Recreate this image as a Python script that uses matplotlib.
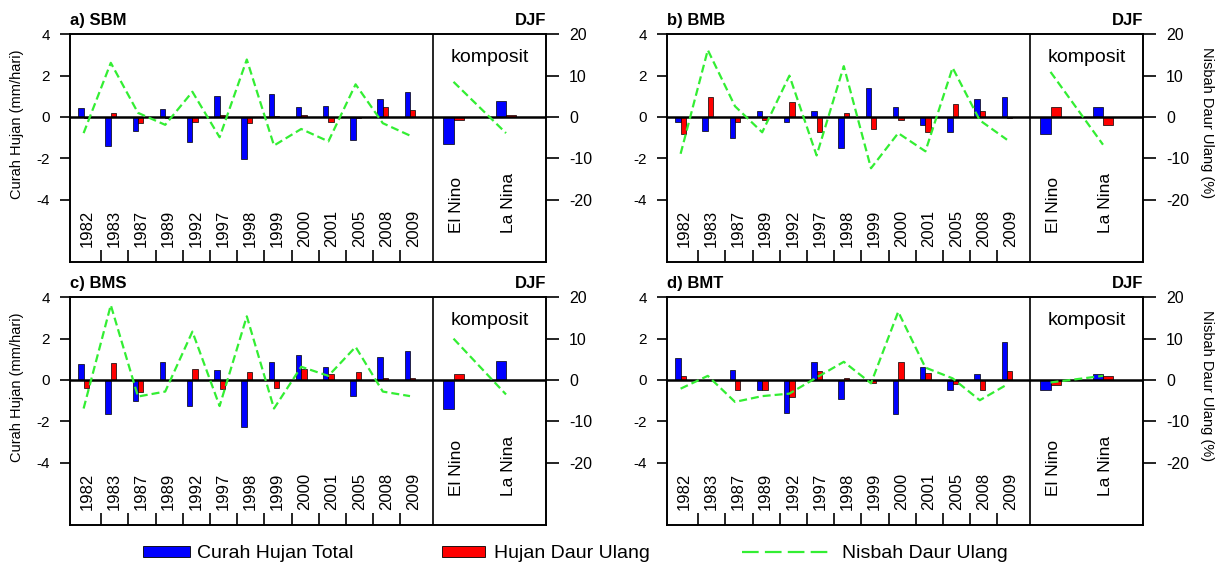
import matplotlib
matplotlib.use('Agg')
import matplotlib.pyplot as plt
import numpy as np
from matplotlib.patches import Patch
from matplotlib.lines import Line2D

plt.rcParams['font.family'] = ['Liberation Sans', 'DejaVu Sans']
plt.rcParams['axes.unicode_minus'] = False

# ---------------- data ----------------
years = ['1982', '1983', '1987', '1989', '1992', '1997', '1998',
         '1999', '2000', '2001', '2005', '2008', '2009']
composites = ['El Nino', 'La Nina']
panel_titles = ['a) SBM', 'b) BMB', 'c) BMS', 'd) BMT']
season = 'DJF'

# a) SBM
sbm_total = [0.45, -1.4, -0.7, 0.4, -1.2, 1.0, -2.05, 1.1, 0.47, 0.55, -1.1, 0.89, 1.21]
sbm_recyc = [-0.07, 0.2, -0.3, -0.03, -0.24, 0.1, -0.3, 0.03, 0.08, -0.24, -0.03, 0.47, 0.36]
sbm_ratio = [-3.9, 13.1, 1.0, -1.9, 6.1, -4.9, 13.9, -6.9, -2.9, -5.9, 7.9, -1.5, -4.5]
sbm_comp_total = [-1.3, 0.78]
sbm_comp_recyc = [-0.15, 0.1]
sbm_comp_ratio = [8.5, -3.9]

# b) BMB
bmb_total = [-0.24, -0.66, -1.0, 0.31, -0.24, 0.31, -1.52, 1.38, 0.47, -0.4, -0.75, 0.87, 0.96]
bmb_recyc = [-0.84, 0.97, -0.24, -0.16, 0.73, -0.73, 0.2, -0.58, -0.13, -0.73, 0.63, 0.28, -0.03]
bmb_ratio = [-8.9, 16.2, 2.6, -3.7, 10.0, -9.3, 12.3, -12.4, -3.9, -8.3, 11.9, -0.8, -5.5]
bmb_comp_total = [-0.83, 0.47]
bmb_comp_recyc = [0.47, -0.4]
bmb_comp_ratio = [10.9, -6.7]

# c) BMS
bms_total = [0.79, -1.66, -1.02, 0.89, -1.26, 0.47, -2.26, 0.89, 1.21, 0.63, -0.78, 1.13, 1.39]
bms_recyc = [-0.4, 0.81, -0.58, 0.02, 0.55, -0.42, 0.39, -0.39, 0.55, 0.27, 0.39, 0.1, 0.1]
bms_ratio = [-6.9, 18.1, -4.0, -2.8, 11.7, -6.3, 15.4, -6.9, 3.2, 1.0, 8.0, -2.8, -3.9]
bms_comp_total = [-1.42, 0.9]
bms_comp_recyc = [0.3, 0.0]
bms_comp_ratio = [10.0, -3.5]

# d) BMT
bmt_total = [1.05, 0.0, 0.47, -0.5, -1.58, 0.89, -0.94, -0.05, -1.66, 0.63, -0.5, 0.28, 1.84]
bmt_recyc = [0.19, 0.0, -0.5, -0.5, -0.8, 0.44, 0.1, -0.13, 0.89, 0.36, -0.2, -0.5, 0.44]
bmt_ratio = [-2.1, 1.0, -5.3, -3.9, -3.3, 0.6, 4.4, -0.8, 16.5, 3.0, 0.4, -4.9, -1.1]
bmt_comp_total = [-0.5, 0.28]
bmt_comp_recyc = [-0.22, 0.19]
bmt_comp_ratio = [-0.6, 1.0]

left_ticks = [-4, -2, 0, 2, 4]
right_ticks = [-20, -10, 0, 10, 20]
ylabel_left = 'Curah Hujan (mm/hari)'
ylabel_right = 'Nisbah Daur Ulang (%)'
legend_labels = ['Curah Hujan Total', 'Hujan Daur Ulang', 'Nisbah Daur Ulang']

panels = [
    (sbm_total, sbm_recyc, sbm_ratio, sbm_comp_total, sbm_comp_recyc, sbm_comp_ratio),
    (bmb_total, bmb_recyc, bmb_ratio, bmb_comp_total, bmb_comp_recyc, bmb_comp_ratio),
    (bms_total, bms_recyc, bms_ratio, bms_comp_total, bms_comp_recyc, bms_comp_ratio),
    (bmt_total, bmt_recyc, bmt_ratio, bmt_comp_total, bmt_comp_recyc, bmt_comp_ratio),
]

# ---------------- style / layout ----------------
BLUE = '#0000ff'
RED = '#ff0000'
GREEN = '#33ee33'
W, H = 1218, 569
fig = plt.figure(figsize=(W / 100, H / 100), dpi=100)
origins = [(70, 34.3), (667, 34.3), (70, 297.3), (667, 297.3)]
aw, ah = 476, 227.4

xs = np.arange(len(years))
xc = np.array([13.6, 15.53])
divider = 12.86
bw = 0.195
cw = 0.37
spine_w = 1.2

for k, (data, (ox, oy)) in enumerate(zip(panels, origins)):
    tot, rec, rat, ctot, crec, crat = data
    ax = fig.add_axes([ox / W, 1 - (oy + ah) / H, aw / W, ah / H])
    ax.set_xlim(-0.5, 17.0)
    ax.set_ylim(-7, 4)
    for s in ax.spines.values():
        s.set_linewidth(spine_w)

    ax.bar(xs - bw / 2, tot, bw, color=BLUE, edgecolor='k', linewidth=0.5, zorder=2)
    ax.bar(xs + bw / 2, rec, bw, color=RED, edgecolor='k', linewidth=0.5, zorder=2)
    ax.bar(xc - cw / 2, ctot, cw, color=BLUE, edgecolor='k', linewidth=0.5, zorder=2)
    ax.bar(xc + cw / 2, crec, cw, color=RED, edgecolor='k', linewidth=0.5, zorder=2)
    ax.axhline(0, color='k', lw=1.8, zorder=3)
    ax.axvline(divider, color='k', lw=spine_w, zorder=3)

    ax.set_yticks(left_ticks)
    ax.set_yticklabels([str(t) for t in left_ticks])
    ax.tick_params(axis='y', direction='out', length=7.5, width=spine_w, pad=7, labelsize=11)
    ax.set_xticks(np.arange(len(years) - 1) + 0.65)
    ax.set_xticklabels([])
    ax.tick_params(axis='x', direction='in', length=9, width=spine_w)

    for i, yr in enumerate(years):
        ax.text(xs[i] + 0.13, -6.27, yr, rotation=90, ha='center', va='bottom', fontsize=12)
    for i, nm in enumerate(composites):
        ax.text(xc[i] + 0.1, -5.6, nm, rotation=90, ha='center', va='bottom', fontsize=12.5)
    ax.text((divider + 17.0) / 2, 2.9, 'komposit', ha='center', va='center', fontsize=14)

    ax.text(0, 1.04, panel_titles[k], transform=ax.transAxes, ha='left', va='baseline',
            fontsize=12, fontweight='bold')
    ax.text(1.0, 1.04, season, transform=ax.transAxes, ha='right', va='baseline',
            fontsize=12, fontweight='bold')

    ax2 = ax.twinx()
    ax2.set_ylim(-35, 20)
    for s in ax2.spines.values():
        s.set_linewidth(spine_w)
    ax2.set_yticks(right_ticks)
    ax2.set_yticklabels([str(t) for t in right_ticks])
    ax2.tick_params(axis='y', direction='out', length=9.5, width=spine_w, pad=7, labelsize=11.5)
    ax2.plot(xs, rat, color=GREEN, lw=1.6, dashes=(3.6, 1.8), zorder=4)
    ax2.plot(xc, crat, color=GREEN, lw=1.6, dashes=(3.6, 1.8), zorder=4)

    if k % 2 == 0:
        ax.text(-0.112, 0.605, ylabel_left, transform=ax.transAxes, rotation=90,
                ha='center', va='center', fontsize=10.5)
    else:
        ax.text(1.134, 0.61, ylabel_right, transform=ax.transAxes, rotation=270,
                ha='center', va='center', fontsize=10.5)

# ---------------- legend ----------------
handles = [
    Patch(facecolor=BLUE, edgecolor='k', linewidth=0.6),
    Patch(facecolor=RED, edgecolor='k', linewidth=0.6),
    Line2D([], [], color=GREEN, lw=1.6, dashes=(7.5, 2.8)),
]
leg_x = [143, 442, 742]
leg_hl = [2.4, 2.2, 4.4]
leg_pad = [0.36, 0.5, 0.75]
for h, lab, lx, hl, tp in zip(handles, legend_labels, leg_x, leg_hl, leg_pad):
    lg = fig.legend(handles=[h], labels=[lab], loc='center left',
                    bbox_to_anchor=(lx / W, 1 - 554 / H), frameon=False,
                    borderpad=0, borderaxespad=0, handlelength=hl,
                    handleheight=0.45, handletextpad=tp, fontsize=14)

fig.savefig('out.png', dpi=100)
